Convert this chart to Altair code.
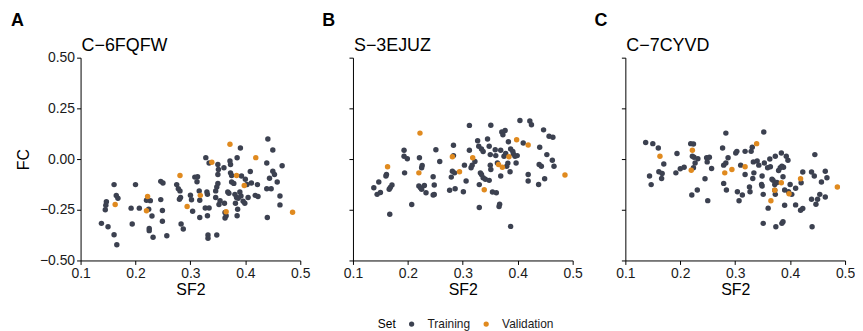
import altair as alt
import pandas as pd

SETS = ["Training", "Validation"]
COLORS = ["#3C4150", "#E08A1F"]
X_TICKS = [0.1, 0.2, 0.3, 0.4, 0.5]
Y_TICKS = [-0.5, -0.25, 0.0, 0.25, 0.5]
LETTERS = ["A", "B", "C"]
NAMES = ["C\u22126FQFW", "S\u22123EJUZ", "C\u22127CYVD"]

VAL_SF2 = [0.163, 0.222, 0.220, 0.281, 0.294, 0.318, 0.339, 0.372, 0.365, 0.384, 0.398, 0.419, 0.486]

A_VAL_FC = [-0.224, -0.185, -0.255, -0.081, -0.234, -0.179, -0.016, 0.073, -0.26, -0.081, -0.13, 0.007, -0.262]
B_VAL_FC = [-0.038, 0.128, -0.068, 0.011, -0.063, 0.006, -0.151, -0.04, -0.027, 0.011, 0.095, 0.069, -0.079]
C_VAL_FC = [0.014, 0.043, -0.055, -0.068, -0.051, -0.038, 0.076, -0.154, -0.206, -0.117, -0.171, -0.097, -0.138]

A_TRAIN = [(0.138,-0.317),(0.150,-0.334),(0.145,-0.25),(0.146,-0.228),(0.147,-0.21),(0.161,-0.126),(0.161,-0.373),(0.166,-0.423),(0.165,-0.18),(0.168,-0.193),(0.192,-0.242),(0.194,-0.32),(0.200,-0.126),(0.207,-0.242),(0.220,-0.203),(0.227,-0.205),(0.224,-0.247),(0.225,-0.342),(0.225,-0.353),(0.230,-0.281),(0.232,-0.386),(0.246,-0.11),(0.250,-0.118),(0.246,-0.2),(0.249,-0.254),(0.249,-0.307),(0.257,-0.378),(0.275,-0.126),(0.278,-0.146),(0.281,-0.157),(0.280,-0.198),(0.282,-0.19),(0.283,-0.32),(0.287,-0.345),(0.300,-0.178),(0.302,-0.201),(0.304,-0.257),(0.308,-0.089),(0.312,-0.112),(0.313,-0.087),(0.316,-0.157),(0.317,-0.203),(0.317,-0.288),(0.328,0.007),(0.330,-0.162),(0.331,-0.174),(0.327,-0.241),(0.331,-0.28),(0.332,-0.374),(0.332,-0.39),(0.334,-0.241),(0.334,-0.019),(0.346,-0.19),(0.346,-0.157),(0.348,-0.374),(0.348,-0.138),(0.350,-0.12),(0.350,-0.076),(0.351,-0.051),(0.350,-0.027),(0.352,-0.224),(0.354,-0.206),(0.361,-0.043),(0.362,-0.218),(0.363,-0.263),(0.365,-0.28),(0.363,-0.291),(0.368,-0.162),(0.370,-0.169),(0.372,-0.01),(0.373,-0.027),(0.373,-0.068),(0.375,-0.081),(0.375,-0.113),(0.379,-0.12),(0.381,-0.174),(0.384,-0.19),(0.387,-0.193),(0.385,0.006),(0.382,-0.218),(0.386,-0.247),(0.385,-0.28),(0.390,-0.162),(0.392,-0.182),(0.391,0.055),(0.393,-0.084),(0.396,-0.208),(0.399,-0.218),(0.400,-0.1),(0.403,-0.125),(0.409,-0.061),(0.405,-0.19),(0.411,-0.118),(0.422,-0.126),(0.418,-0.179),(0.423,-0.185),(0.439,-0.146),(0.439,-0.019),(0.440,-0.288),(0.441,0.099),(0.444,-0.095),(0.447,-0.146),(0.450,0.045),(0.450,-0.06),(0.453,-0.076),(0.458,-0.113),(0.463,-0.182),(0.463,-0.226),(0.467,-0.033)]

B_TRAIN = [(0.138,-0.141),(0.144,-0.174),(0.150,-0.165),(0.147,-0.113),(0.160,-0.084),(0.161,-0.076),(0.166,-0.149),(0.171,-0.128),(0.168,-0.14),(0.167,-0.272),(0.193,0.043),(0.194,-0.068),(0.193,0.014),(0.199,0.002),(0.207,-0.224),(0.221,0.006),(0.220,-0.133),(0.223,-0.141),(0.226,-0.032),(0.225,-0.043),(0.225,-0.149),(0.230,-0.13),(0.233,-0.166),(0.246,-0.087),(0.248,-0.128),(0.246,-0.177),(0.248,-0.175),(0.251,0.046),(0.258,-0.012),(0.276,-0.154),(0.279,-0.089),(0.281,-0.06),(0.283,0.068),(0.283,0.017),(0.286,-0.146),(0.285,-0.068),(0.301,-0.161),(0.303,-0.03),(0.306,-0.108),(0.312,0.166),(0.312,0.043),(0.315,-0.043),(0.317,-0.03),(0.322,-0.012),(0.327,0.09),(0.329,0.063),(0.332,-0.068),(0.334,-0.076),(0.330,-0.126),(0.330,-0.239),(0.334,0.05),(0.337,0.037),(0.337,-0.092),(0.341,-0.1),(0.345,0.099),(0.348,0.063),(0.350,0.022),(0.350,-0.03),(0.351,-0.051),(0.348,-0.105),(0.351,0.167),(0.354,-0.162),(0.361,-0.166),(0.359,0.046),(0.360,0.017),(0.363,-0.019),(0.366,-0.234),(0.367,-0.223),(0.369,-0.084),(0.369,0.043),(0.371,0.133),(0.373,0.12),(0.377,0.141),(0.375,0.014),(0.378,0.027),(0.380,-0.035),(0.382,-0.02),(0.383,0.085),(0.386,-0.063),(0.387,-0.332),(0.387,0.05),(0.391,0.038),(0.392,0.025),(0.395,0.014),(0.397,-0.019),(0.399,0.017),(0.404,0.19),(0.410,0.079),(0.419,-0.076),(0.419,-0.108),(0.422,0.188),(0.425,0.169),(0.438,-0.125),(0.440,0.058),(0.439,-0.027),(0.443,-0.035),(0.447,0.144),(0.449,-0.097),(0.453,0.022),(0.457,0.112),(0.464,0.108),(0.463,-0.006),(0.466,-0.035)]

C_TRAIN = [(0.137,0.082),(0.150,0.076),(0.160,0.055),(0.144,-0.084),(0.147,-0.126),(0.161,-0.063),(0.167,-0.071),(0.166,-0.096),(0.170,-0.024),(0.194,0.027),(0.192,-0.068),(0.200,-0.048),(0.207,-0.04),(0.219,0.076),(0.224,0.074),(0.221,-0.177),(0.222,0.014),(0.225,0.009),(0.227,-0.019),(0.232,0.002),(0.231,-0.153),(0.224,-0.043),(0.245,-0.097),(0.248,0.006),(0.253,0.009),(0.249,-0.014),(0.250,-0.205),(0.257,-0.047),(0.277,0.055),(0.279,-0.03),(0.279,-0.12),(0.283,0.128),(0.283,-0.019),(0.284,-0.153),(0.287,0.006),(0.301,0.03),(0.303,0.038),(0.304,-0.161),(0.307,-0.206),(0.310,-0.03),(0.313,-0.177),(0.318,0.038),(0.318,-0.076),(0.326,-0.138),(0.327,-0.161),(0.329,0.038),(0.331,0.058),(0.332,-0.096),(0.334,-0.068),(0.333,-0.014),(0.340,-0.01),(0.343,-0.03),(0.349,-0.084),(0.348,-0.125),(0.349,-0.133),(0.351,-0.174),(0.351,-0.317),(0.353,-0.019),(0.352,0.133),(0.360,-0.242),(0.359,-0.043),(0.363,0.0),(0.364,-0.038),(0.367,-0.1),(0.369,-0.105),(0.373,0.014),(0.374,-0.334),(0.372,-0.125),(0.376,-0.115),(0.372,-0.154),(0.373,-0.174),(0.379,-0.056),(0.382,-0.043),(0.384,0.03),(0.385,-0.317),(0.387,-0.309),(0.385,-0.035),(0.388,-0.04),(0.387,-0.087),(0.390,-0.228),(0.390,-0.153),(0.393,0.014),(0.396,-0.006),(0.397,-0.161),(0.400,-0.125),(0.403,-0.174),(0.410,-0.144),(0.410,-0.226),(0.419,-0.252),(0.423,-0.244),(0.420,-0.117),(0.423,-0.064),(0.439,-0.064),(0.439,-0.198),(0.440,-0.334),(0.444,-0.084),(0.445,0.022),(0.447,-0.223),(0.450,-0.198),(0.454,-0.174),(0.457,-0.113),(0.464,-0.06),(0.464,-0.187),(0.467,-0.092)]

FONT = "Liberation Sans"


def panel(letter, name, train, val_fc, first):
    df = pd.DataFrame({
        "SF2": [p[0] for p in train] + VAL_SF2,
        "FC": [p[1] for p in train] + val_fc,
        "Set": ["Training"] * len(train) + ["Validation"] * len(VAL_SF2),
    })
    if first:
        yaxis = alt.Axis(values=Y_TICKS, format=".2f", title="FC", labelPadding=2,
                         titlePadding=8)
    else:
        yaxis = alt.Axis(values=Y_TICKS, labels=False, title="")
    pts = alt.Chart(df).mark_circle(size=30, opacity=1).encode(
        x=alt.X("SF2:Q", scale=alt.Scale(domain=[0.1, 0.5], nice=False, padding=0, zero=False),
                axis=alt.Axis(values=X_TICKS, format=".1f", title="SF2", labelPadding=2,
                              titlePadding=1, labelFlush=False)),
        y=alt.Y("FC:Q", scale=alt.Scale(domain=[-0.5, 0.5], nice=False, padding=0), axis=yaxis),
        color=alt.Color("Set:N", scale=alt.Scale(domain=SETS, range=COLORS),
                        legend=alt.Legend(orient="none", direction="horizontal",
                                          titleOrient="left", legendX=299, legendY=262,
                                          symbolType="circle", symbolSize=28,
                                          labelFontSize=12, titleFontSize=12,
                                          titlePadding=9, labelOffset=10,
                                          columnPadding=10,
                                          titleFontWeight="normal", labelFont=FONT,
                                          titleFont=FONT, symbolStrokeWidth=0)),
    )
    txt = pd.DataFrame({"t": [letter, name], "kind": ["letter", "name"]})
    lab = alt.Chart(txt).transform_filter(alt.datum.kind == "letter").mark_text(
        font=FONT, fontSize=18, fontWeight="bold", align="left", baseline="alphabetic",
        color="black"
    ).encode(text="t:N", x=alt.value(-70 if first else -31), y=alt.value(-32))
    ttl = alt.Chart(txt).transform_filter(alt.datum.kind == "name").mark_text(
        font=FONT, fontSize=18, align="left", baseline="alphabetic", color="black"
    ).encode(text="t:N", x=alt.value(1), y=alt.value(-7))
    return alt.layer(pts, lab, ttl).properties(width=221, height=204)


chart = alt.hconcat(
    panel(LETTERS[0], NAMES[0], A_TRAIN, A_VAL_FC, True),
    panel(LETTERS[1], NAMES[1], B_TRAIN, B_VAL_FC, False),
    panel(LETTERS[2], NAMES[2], C_TRAIN, C_VAL_FC, False),
    spacing=53, bounds="flush",
).properties(
    padding={"left": 3, "top": 3, "right": 0, "bottom": 0}
).configure_view(stroke=None).configure_axis(
    grid=False, domainColor="black", tickColor="black", tickSize=4,
    labelColor="#1a1a1a", labelFont=FONT, labelFontSize=14, titleFont=FONT,
    titleFontSize=16, titleFontWeight="normal", titleColor="black",
).configure_legend(labelColor="#1a1a1a", titleColor="black")

chart.save("out.html", embed_options={"renderer": "svg", "actions": False})
